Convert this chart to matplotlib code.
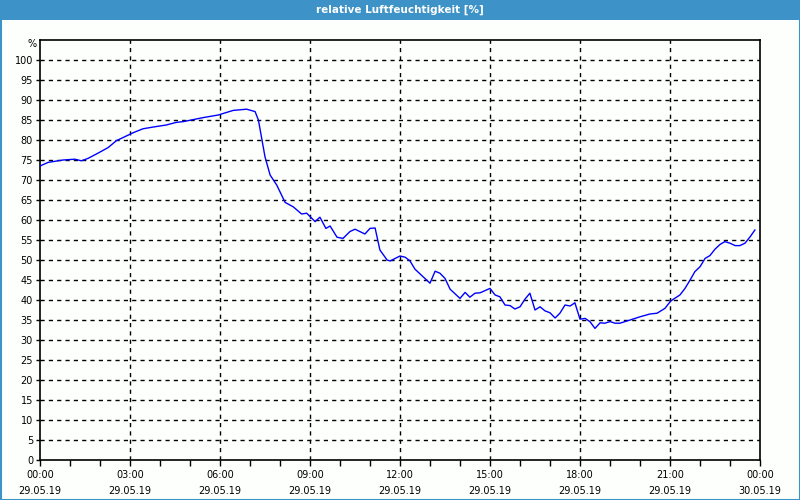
import matplotlib
matplotlib.use("Agg")
import matplotlib.pyplot as plt
from matplotlib.patches import Rectangle

# hours since 29.05.19 00:00 and relative humidity in %
hours = [0.0, 0.27, 0.77, 1.16, 1.38, 1.6, 1.93, 2.27, 2.54, 2.82,
         3.1, 3.43, 3.82, 4.21, 4.54, 4.78, 5.44, 5.94, 6.44, 6.89,
         7.17, 7.28, 7.39, 7.5, 7.67, 7.89, 8.17, 8.44, 8.72, 8.89,
         9.17, 9.33, 9.53, 9.67, 9.9, 10.1, 10.33, 10.5, 10.83, 11.0,
         11.17, 11.33, 11.57, 11.67, 12.0, 12.17, 12.33, 12.5, 13.0, 13.17,
         13.33, 13.5, 13.67, 14.0, 14.17, 14.33, 14.5, 14.67, 15.0, 15.17,
         15.33, 15.5, 15.67, 15.83, 16.0, 16.17, 16.33, 16.5, 16.67, 16.83,
         17.0, 17.17, 17.33, 17.5, 17.67, 17.83, 18.0, 18.17, 18.33, 18.5,
         18.67, 18.83, 19.0, 19.17, 19.33, 19.67, 20.0, 20.33, 20.57, 20.83,
         21.03, 21.33, 21.5, 21.67, 21.83, 22.0, 22.17, 22.33, 22.5, 22.67,
         22.83, 23.0, 23.17, 23.33, 23.5, 23.67, 23.83]
humidity = [73.5, 74.4, 75.0, 75.2, 74.8, 75.4, 76.7, 78.1, 79.8, 80.8,
            81.8, 82.8, 83.3, 83.75, 84.4, 84.6, 85.6, 86.25, 87.4, 87.7,
            87.1, 85.0, 80.4, 75.8, 71.25, 68.75, 64.4, 63.3, 61.5, 61.7,
            59.6, 60.7, 57.9, 58.5, 55.7, 55.4, 57.1, 57.7, 56.5, 57.9,
            58.0, 52.5, 50.0, 49.75, 51.0, 50.7, 49.8, 47.7, 44.2, 47.2,
            46.7, 45.4, 42.7, 40.4, 41.9, 40.7, 41.7, 41.8, 42.9, 41.25,
            40.8, 38.75, 38.6, 37.75, 38.3, 40.25, 41.7, 37.5, 38.3, 37.3,
            36.8, 35.5, 36.7, 38.75, 38.5, 39.3, 35.2, 35.4, 34.6, 32.9,
            34.3, 34.2, 34.6, 34.2, 34.2, 35.0, 35.8, 36.5, 36.7, 37.9,
            39.8, 41.25, 42.9, 45.0, 47.1, 48.3, 50.4, 51.1, 52.7, 53.9,
            54.6, 54.2, 53.6, 53.6, 54.2, 55.8, 57.5]

xtick_hours = [0, 3, 6, 9, 12, 15, 18, 21, 24]
xtick_labels = ["00:00\n29.05.19", "03:00\n29.05.19", "06:00\n29.05.19",
                "09:00\n29.05.19", "12:00\n29.05.19", "15:00\n29.05.19",
                "18:00\n29.05.19", "21:00\n29.05.19", "00:00\n30.05.19"]
title = "relative Luftfeuchtigkeit [%]"

blue_bar = "#3d92c8"

fig = plt.figure(figsize=(8, 5), dpi=100)
fig.patch.set_facecolor("#fcfffc")

# title bar and outer frame
fig.patches.append(Rectangle((0, 1 - 20 / 500), 1, 20 / 500, transform=fig.transFigure,
                             facecolor=blue_bar, edgecolor="none", zorder=0))
fig.patches.append(Rectangle((0.5 / 800, 0.5 / 500), 1 - 1 / 800, 1 - 1 / 500,
                             transform=fig.transFigure, facecolor="none",
                             edgecolor=blue_bar, linewidth=1.5, zorder=0))
fig.text(0.5, 1 - 10 / 500, title, color="white", ha="center", va="center",
         fontsize=7.5, fontweight="bold")

ax = fig.add_axes([40 / 800, 40 / 500, 720 / 800, 420 / 500])
ax.set_facecolor("#fcfffc")
ax.plot(hours, humidity, color="#0000ff", linewidth=1, zorder=3)

ax.set_xlim(0, 24)
ax.set_ylim(0, 105)
ax.set_yticks(range(0, 101, 5))
ax.set_xticks(xtick_hours)
ax.set_xticklabels(xtick_labels, linespacing=1.65)
ax.set_xticks(range(0, 25), minor=True)
ax.tick_params(axis="both", labelsize=7, colors="black", length=4, width=1, direction="out")
ax.tick_params(axis="x", which="minor", length=4, width=1)
ax.tick_params(axis="x", pad=3.5)
ax.tick_params(axis="y", length=3, pad=2)

for y in range(5, 101, 5):
    ax.axhline(y, color="black", linewidth=1, linestyle=(0, (3, 3)), zorder=1)
for x in xtick_hours[1:-1]:
    ax.axvline(x, color="black", linewidth=1, linestyle=(0, (3, 3)), zorder=1)

for s in ax.spines.values():
    s.set_color("black")
    s.set_linewidth(1.2)

ax.text(-0.004, 104, "%", transform=ax.get_yaxis_transform(), ha="right", va="center", fontsize=7)

fig.savefig("out.png", dpi=100, facecolor=fig.get_facecolor())
